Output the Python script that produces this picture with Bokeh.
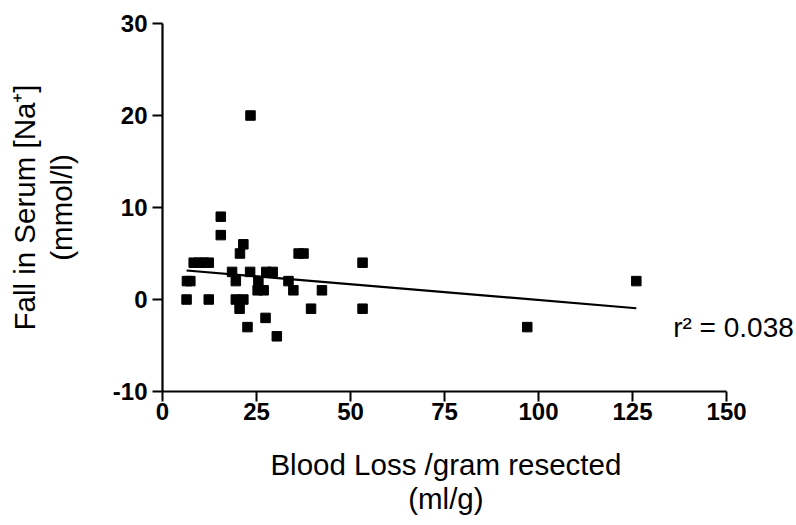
from bokeh.plotting import figure
from bokeh.models import Label, FixedTicker, Range1d, CustomJSTickFormatter
from bokeh.embed import file_html
from bokeh.resources import INLINE

# Data
blood_loss = [23.4, 15.5, 15.5, 21.5, 20.6, 36.2, 37.5, 53.2, 8.3, 9.6, 11.0, 12.3,
              6.5, 7.4, 18.5, 23.3, 27.6, 29.3, 19.5, 25.5, 33.5, 25.3, 26.9, 34.8,
              42.4, 6.4, 12.3, 19.5, 21.5, 20.5, 39.5, 53.2, 27.4, 22.6, 30.4, 97.0, 126.0]
fall_na = [20, 9, 7, 6, 5, 5, 5, 4, 4, 4, 4, 4,
           2, 2, 3, 3, 3, 3, 2, 2, 2, 1, 1, 1,
           1, 0, 0, 0, 0, -1, -1, -1, -2, -3, -4, -3, 2]
fit_x = [6.4, 126.0]
fit_y = [3.15, -0.95]
x_ticks = [0, 25, 50, 75, 100, 125, 150]
y_ticks = [-10, 0, 10, 20, 30]
x_title_lines = ["Blood Loss /gram resected", "(ml/g)"]
y_title_lines = ["Fall in Serum [Na\u207a]", "(mmol/l)"]
r2_text = "r\u00b2 = 0.038"

FONT = "Liberation Sans"
# trailing pad keeps the x title centred under the 0-150 axis, not the wider frame
PAD = "\u2003\u2003\u00a0"

p = figure(width=796, height=525, output_backend="svg", toolbar_location=None,
           x_range=Range1d(0, 168.6), y_range=Range1d(-10, 30),
           min_border_left=162, min_border_right=0, min_border_top=23, min_border_bottom=134)
p.outline_line_color = None
p.xgrid.visible = False
p.ygrid.visible = False
p.background_fill_color = "white"
p.border_fill_color = "white"

fmt = CustomJSTickFormatter(code="return tick.toString();")
for ax in (p.xaxis[0], p.yaxis[0]):
    ax.axis_line_width = 2.2
    ax.axis_line_color = "black"
    ax.major_tick_line_width = 2
    ax.major_tick_line_color = "black"
    ax.major_tick_in = 0
    ax.major_tick_out = 10
    ax.minor_tick_out = 0
    ax.minor_tick_in = 0
    ax.major_label_text_font = FONT
    ax.major_label_text_font_style = "bold"
    ax.major_label_text_font_size = "24px"
    ax.major_label_text_color = "black"
    ax.formatter = fmt
    ax.axis_label_text_font = FONT
    ax.axis_label_text_font_style = "normal"
    ax.axis_label_text_font_size = "29.5px"
    ax.axis_label_text_color = "black"
p.xaxis[0].axis_label_text_line_height = 1.05
p.yaxis[0].axis_label_text_line_height = 1.12
p.xaxis[0].ticker = FixedTicker(ticks=x_ticks)
p.yaxis[0].ticker = FixedTicker(ticks=y_ticks)
p.xaxis[0].bounds = (0, 150)
p.xaxis[0].major_label_standoff = 1
p.yaxis[0].major_label_standoff = 5
p.xaxis[0].axis_label = "\n".join(line + PAD for line in x_title_lines)
p.yaxis[0].axis_label = "\n".join(y_title_lines)
p.xaxis[0].axis_label_standoff = 25
p.yaxis[0].axis_label_standoff = 32

p.line(fit_x, fit_y, line_color="black", line_width=2.2)
p.scatter(blood_loss, fall_na, marker="square", size=9.5, fill_color="black", line_color="black")

p.add_layout(Label(x=135.8, y=-3.0, text=r2_text, text_align="left",
                   text_baseline="alphabetic", text_font=FONT, text_font_size="28px",
                   text_color="black"))

open("out.html", "w").write(file_html(p, INLINE))
